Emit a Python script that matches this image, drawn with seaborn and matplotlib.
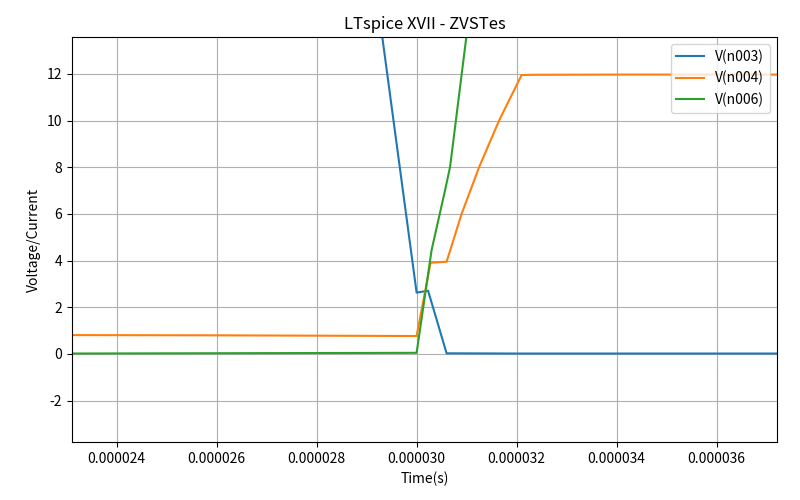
import numpy as np
import pandas as pd
import seaborn as sns
import matplotlib
matplotlib.use('Agg')
import matplotlib.pyplot as plt
from matplotlib.ticker import FormatStrFormatter

# values (time in microseconds)
t_n003 = [23.0, 28.66, 30.0, 30.23, 30.6, 32.0, 37.5]
v_n003 = [24.0, 24.0, 2.63, 2.71, 0.03, 0.02, 0.02]

t_n004 = [23.0, 26.0, 30.0, 30.28, 30.6, 30.9, 31.25, 31.65, 32.1, 32.3, 34.0, 37.5]
v_n004 = [0.81, 0.80, 0.77, 3.91, 3.95, 6.0, 8.0, 10.0, 11.95, 11.96, 11.97, 11.97]

t_n006 = [23.0, 30.0, 30.3, 30.57, 30.67, 31.37, 37.5]
v_n006 = [0.02, 0.05, 4.45, 7.02, 8.02, 20.0, 20.0]

series = [('V(n003)', t_n003, v_n003),
          ('V(n004)', t_n004, v_n004),
          ('V(n006)', t_n006, v_n006)]

frames = []
for name, t, v in series:
    frames.append(pd.DataFrame({'time': np.array(t) * 1e-6, 'value': v, 'trace': name}))
df = pd.concat(frames, ignore_index=True)

plt.rcParams['font.family'] = ['Noto Sans CJK SC', 'DejaVu Sans']
plt.rcParams['axes.unicode_minus'] = False

fig, ax = plt.subplots(figsize=(8, 5), dpi=100)
sns.lineplot(data=df, x='time', y='value', hue='trace', sort=False,
             estimator=None, linewidth=1.5, ax=ax)

ax.set_xlim(23.106e-6, 37.206e-6)
ax.set_ylim(-3.77, 13.58)
ax.xaxis.set_major_formatter(FormatStrFormatter('%.6f'))
ax.set_title('LTspice XVII - ZVSTes')
ax.set_xlabel('Time(s)')
ax.set_ylabel('Voltage/Current')
ax.grid(True)
ax.legend(loc='upper right')

plt.subplots_adjust(left=0.09, right=0.971, top=0.926, bottom=0.116)
plt.savefig('out.png')
